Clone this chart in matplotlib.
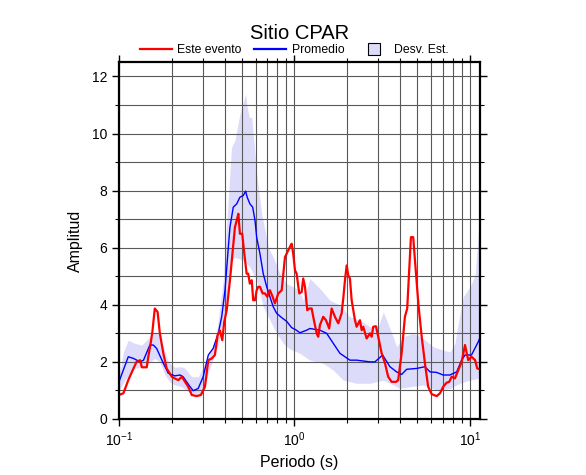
import numpy as np
import matplotlib
matplotlib.use('Agg')
import matplotlib.pyplot as plt
from matplotlib.ticker import LogLocator, MultipleLocator, NullFormatter
from matplotlib.lines import Line2D
from matplotlib.patches import Patch, Rectangle
from matplotlib.legend_handler import HandlerPatch

# Promedio (mean spectral ratio)
mean_period = [0.100, 0.113, 0.121, 0.132, 0.138, 0.150, 0.157, 0.164, 0.179, 0.191,
               0.208, 0.223, 0.232, 0.254, 0.265, 0.283, 0.302, 0.323, 0.344, 0.368,
               0.385, 0.402, 0.420, 0.429, 0.448, 0.469, 0.489, 0.511, 0.527, 0.538,
               0.557, 0.578, 0.596, 0.609, 0.636, 0.664, 0.695, 0.725, 0.757, 0.792,
               0.846, 0.903, 0.964, 1.02, 1.074, 1.174, 1.225, 1.397, 1.526, 1.664,
               1.816, 2.071, 2.261, 2.693, 2.875, 3.18, 3.50, 3.82, 4.08, 4.36,
               4.97, 5.54, 5.92, 6.46, 7.04, 7.69, 8.40, 8.97, 9.37, 10.2,
               11.15, 11.4]
mean_amp = [1.30, 2.18, 2.12, 2.00, 2.06, 2.59, 2.59, 2.47, 1.95, 1.60,
            1.51, 1.54, 1.48, 1.13, 0.99, 1.07, 1.48, 2.24, 2.47, 3.00,
            3.58, 4.51, 6.02, 6.72, 7.42, 7.54, 7.77, 7.83, 7.98, 7.77,
            7.54, 7.42, 6.96, 6.37, 5.79, 5.09, 4.63, 4.28, 3.93, 3.70,
            3.55, 3.42, 3.20, 3.12, 3.02, 3.11, 3.17, 3.11, 3.00, 2.65,
            2.30, 2.06, 2.06, 2.00, 2.00, 2.24, 1.83, 1.65, 1.56, 1.74,
            1.77, 1.83, 1.65, 1.63, 1.54, 1.54, 1.65, 2.06, 2.24, 2.24,
            2.70, 2.85]

# Este evento
event_period = [0.100, 0.106, 0.113, 0.121, 0.126, 0.132, 0.135, 0.144, 0.147, 0.152,
                0.155, 0.160, 0.166, 0.171, 0.179, 0.187, 0.200, 0.208, 0.218, 0.228,
                0.238, 0.248, 0.260, 0.277, 0.293, 0.309, 0.323, 0.338, 0.352, 0.365,
                0.376, 0.388, 0.398, 0.411, 0.429, 0.438, 0.458, 0.469, 0.479, 0.489,
                0.504, 0.518, 0.534, 0.545, 0.557, 0.571, 0.582, 0.596, 0.609, 0.622,
                0.636, 0.659, 0.679, 0.700, 0.725, 0.751, 0.774, 0.809, 0.846, 0.883,
                0.922, 0.951, 0.964, 0.984, 1.007, 1.029, 1.065, 1.099, 1.122, 1.148,
                1.183, 1.214, 1.253, 1.291, 1.338, 1.366, 1.397, 1.459, 1.512, 1.578,
                1.629, 1.701, 1.777, 1.857, 1.897, 1.940, 1.984, 2.026, 2.071, 2.118,
                2.212, 2.261, 2.362, 2.415, 2.466, 2.578, 2.693, 2.754, 2.811, 2.912,
                3.003, 3.14, 3.28, 3.42, 3.58, 3.79, 3.90, 4.08, 4.26, 4.39,
                4.51, 4.61, 4.75, 4.86, 5.08, 5.31, 5.54, 5.78, 6.05, 6.46,
                6.75, 7.04, 7.36, 7.62, 7.87, 8.21, 8.58, 8.97, 9.37, 9.78,
                10.2, 10.7, 11.0, 11.4]
event_amp = [0.84, 0.90, 1.36, 1.77, 2.00, 2.06, 1.81, 1.81, 2.18, 2.70,
             3.05, 3.87, 3.75, 3.00, 2.30, 1.77, 1.48, 1.42, 1.36, 1.48,
             1.30, 1.13, 0.84, 0.80, 0.84, 1.13, 2.06, 2.12, 2.24, 2.94,
             3.10, 2.76, 3.40, 3.81, 4.86, 5.44, 6.72, 6.96, 7.19, 6.49,
             6.49, 5.79, 5.09, 5.09, 4.74, 4.86, 4.16, 4.16, 4.51, 4.63,
             4.63, 4.40, 4.40, 4.28, 4.51, 4.28, 4.05, 4.40, 4.51, 5.67,
             5.91, 6.08, 6.14, 5.79, 5.21, 5.09, 4.40, 4.45, 4.92, 4.63,
             3.81, 3.87, 3.87, 3.46, 3.00, 2.88, 3.29, 3.58, 3.46, 3.17,
             3.87, 3.58, 3.35, 3.70, 4.22, 4.86, 5.38, 5.03, 4.92, 4.16,
             3.46, 3.23, 3.46, 3.11, 3.23, 2.82, 3.00, 2.88, 3.23, 3.25,
             2.88, 2.30, 1.95, 1.48, 1.30, 1.30, 1.36, 2.30, 3.58, 3.87,
             5.21, 6.37, 6.37, 5.56, 4.05, 2.88, 1.95, 1.13, 0.87, 0.80,
             0.90, 1.13, 1.27, 1.30, 1.48, 1.42, 1.71, 2.00, 2.59, 2.06,
             2.18, 2.06, 1.77, 1.74]

# Desv. Est. band (upper / lower edge)
upper_period = [0.100, 0.106, 0.113, 0.123, 0.135, 0.147, 0.157, 0.168, 0.179, 0.191,
                0.208, 0.228, 0.238, 0.260, 0.283, 0.309, 0.338, 0.360, 0.393, 0.420,
                0.438, 0.458, 0.469, 0.489, 0.511, 0.527, 0.538, 0.553, 0.571, 0.582,
                0.609, 0.636, 0.650, 0.679, 0.709, 0.757, 0.827, 0.903, 0.984, 1.065,
                1.122, 1.225, 1.397, 1.593, 1.816, 2.071, 2.362, 2.693, 3.003, 3.21,
                3.35, 3.65, 3.82, 4.17, 4.75, 5.42, 6.18, 7.04, 7.69, 8.21,
                8.58, 9.16, 10.0, 10.7, 11.15, 11.4]
upper_amp = [1.48, 2.35, 2.76, 2.65, 2.59, 2.82, 3.00, 3.00, 2.53, 2.00,
             1.81, 1.83, 1.77, 1.48, 1.48, 1.95, 2.41, 3.00, 4.86, 7.77,
             9.52, 9.76, 10.10, 10.69, 11.10, 11.39, 10.92, 10.57, 10.57, 9.99,
             8.59, 7.66, 7.19, 6.61, 6.02, 5.67, 5.09, 4.74, 4.63, 4.50,
             4.16, 4.92, 4.57, 4.16, 3.99, 3.58, 3.46, 3.23, 3.23, 3.75,
             3.46, 2.88, 2.53, 2.88, 3.00, 2.82, 2.53, 2.41, 2.35, 2.65,
             3.35, 4.28, 4.63, 5.03, 6.49, 7.00]
lower_period = [0.100, 0.108, 0.123, 0.135, 0.147, 0.160, 0.171, 0.183, 0.195, 0.208,
                0.228, 0.248, 0.271, 0.296, 0.309, 0.323, 0.344, 0.368, 0.393, 0.420,
                0.438, 0.458, 0.479, 0.511, 0.557, 0.609, 0.636, 0.664, 0.725, 0.792,
                0.863, 0.942, 1.074, 1.225, 1.459, 1.664, 1.897, 2.261, 2.693, 3.21,
                3.50, 3.99, 4.55, 5.42, 6.46, 7.69, 8.77, 10.0, 11.15, 11.4]
lower_amp = [1.01, 1.36, 1.77, 1.83, 1.95, 2.12, 2.00, 1.54, 1.30, 1.19,
             1.13, 0.95, 0.84, 0.84, 1.10, 1.60, 2.10, 2.60, 3.40, 4.74,
             5.56, 5.67, 5.62, 5.56, 5.33, 4.86, 4.40, 3.93, 3.46, 3.00,
             2.65, 2.45, 2.30, 2.06, 1.95, 1.71, 1.36, 1.25, 1.25, 1.36,
             1.25, 1.07, 1.13, 1.19, 1.01, 1.07, 1.25, 1.36, 1.42, 1.42]

plt.rcParams['font.family'] = ['Liberation Sans', 'DejaVu Sans']
plt.rcParams['mathtext.default'] = 'regular'

fig = plt.figure(figsize=(5.86, 4.75), dpi=100)
ax = fig.add_axes([0.203, 0.118, 0.616, 0.751])

# band: put both edges on a common period grid so fill_between works
grid = np.unique(np.concatenate([upper_period, lower_period]))
lg = np.log10(grid)
up = np.interp(lg, np.log10(upper_period), upper_amp)
lo = np.interp(lg, np.log10(lower_period), lower_amp)
band_color = '#dcdcfa'
ax.fill_between(grid, lo, up, color=band_color, lw=0, zorder=1)

ax.plot(mean_period, mean_amp, color='#0000ff', lw=1.0, zorder=3)
ax.plot(event_period, event_amp, color='#ff0000', lw=1.6, zorder=4)

ax.set_xscale('log')
ax.set_xlim(0.1, 11.4)
ax.set_ylim(0, 12.5)
ax.xaxis.set_major_locator(LogLocator(base=10))
ax.xaxis.set_minor_locator(LogLocator(base=10, subs=np.arange(2, 10)))
ax.xaxis.set_minor_formatter(NullFormatter())
ax.yaxis.set_major_locator(MultipleLocator(2))
ax.yaxis.set_minor_locator(MultipleLocator(1))

ax.grid(True, which='both', color='0.35', lw=0.8)
for line in ax.get_xgridlines() + ax.get_ygridlines():
    line.set_zorder(2)

for s in ax.spines.values():
    s.set_linewidth(1.6)
    s.set_zorder(5)
ax.tick_params(which='both', direction='out', top=True, right=True, labelsize=10)
ax.tick_params(which='major', length=5, width=1.0)
ax.tick_params(which='minor', length=3, width=0.8)

ax.set_xlabel('Periodo (s)', fontsize=11.5, labelpad=4)
ax.set_ylabel('Amplitud', fontsize=11.5, labelpad=6)
ax.set_title('Sitio CPAR', fontsize=14.5, pad=17)


def small_box(legend, orig_handle, xdescent, ydescent, width, height, fontsize):
    # square swatch sitting near the label, like the original legend
    side = 9.0
    return Rectangle((width - side - 6.0 - xdescent, height / 2 - side / 2 - ydescent),
                     side, side)


handles = [Line2D([], [], color='#ff0000', lw=1.6),
           Line2D([], [], color='#0000ff', lw=1.6),
           Patch(facecolor=band_color, edgecolor='black', lw=0.8)]
labels = ['Este evento', 'Promedio', 'Desv. Est.']
ax.legend(handles, labels, loc='center', bbox_to_anchor=(0.486, 1.033),
          ncol=3, frameon=False, fontsize=8.8, handlelength=2.6,
          columnspacing=1.05, handletextpad=0.45, borderpad=0,
          handler_map={Patch: HandlerPatch(patch_func=small_box)})

fig.savefig('out.png', dpi=100)
